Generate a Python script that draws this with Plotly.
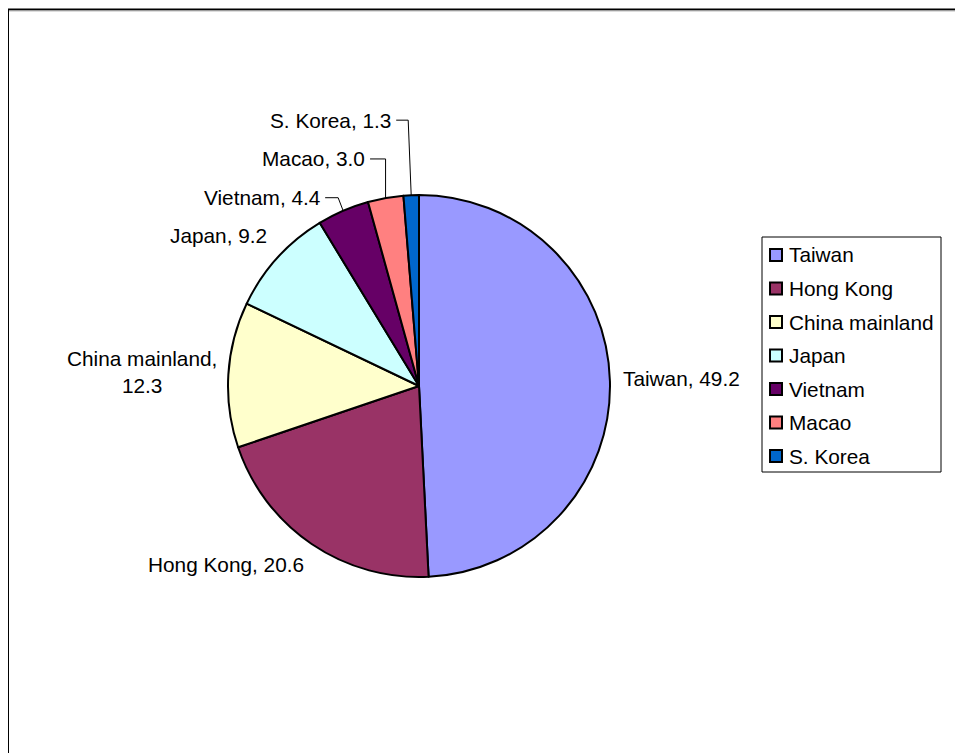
import math
import plotly.graph_objects as go

# ---- data ----
countries = ["Taiwan", "Hong Kong", "China mainland", "Japan", "Vietnam", "Macao", "S. Korea"]
shares = [49.2, 20.6, 12.3, 9.2, 4.4, 3.0, 1.3]
colors = ["#9999FF", "#993366", "#FFFFCC", "#CCFFFF", "#660066", "#FF8080", "#0066CC"]

# ---- layout (pixels, in page coordinates) ----
W, H = 963, 753
OFF = 8  # page body margin in the browser
CX, CY, R = 419, 386, 191
FONT = dict(family="Liberation Sans, Arial, sans-serif", size=20.8, color="#000000")

# label placement relative to the slice's mid-arc point: (dx, dy, xanchor, leader elbow dx or None)
label_cfg = [
    (11, -3, "left", None),
    (-6, 21, "right", None),
    (-9, -3, "right", None),
    (-8, -22, "right", None),
    (-21, -13, "right", -5),
    (-18.5, -39, "right", 0),
    (-18, -75, "right", -3),
]
label_text = ["Taiwan, {:.1f}", "Hong Kong, {:.1f}", "China mainland,<br>{:.1f}",
              "Japan, {:.1f}", "Vietnam, {:.1f}", "Macao, {:.1f}", "S. Korea, {:.1f}"]


def px(x):
    return (x - OFF) / W


def py(y):
    return 1 - (y - OFF) / H


fig = go.Figure()
fig.add_trace(go.Pie(
    labels=countries,
    values=shares,
    sort=False,
    direction="clockwise",
    rotation=0,
    marker=dict(colors=colors, line=dict(color="#000000", width=2)),
    textinfo="none",
    hoverinfo="label+value",
    showlegend=False,
    domain=dict(x=[px(CX - R), px(CX + R)], y=[py(CY + R), py(CY - R)]),
))

shapes = []
annotations = []

# data labels with leader lines
total = sum(shares)
cum = 0.0
for i, v in enumerate(shares):
    mid = (cum + v / 2) / total * 2 * math.pi
    cum += v
    ax = CX + R * math.sin(mid)
    ay = CY - R * math.cos(mid)
    dx, dy, xa, elbow = label_cfg[i]
    lx, ly = ax + dx, ay + dy
    annotations.append(dict(
        x=px(lx), y=py(ly), xref="paper", yref="paper",
        text=label_text[i].format(v), showarrow=False,
        xanchor=xa, yanchor="middle", align="center", font=FONT,
    ))
    if elbow is not None:
        ex = ax + elbow
        path = "M {} {} L {} {} L {} {}".format(
            px(ax), py(ay), px(ex), py(ly), px(lx + 3), py(ly))
        shapes.append(dict(type="path", path=path, xref="paper", yref="paper",
                           line=dict(color="#000000", width=1)))

# legend (manual, to match the original spacing)
LX0, LX1, LY0, LY1 = 762, 941, 237, 472
shapes.append(dict(type="rect", xref="paper", yref="paper",
                   x0=px(LX0), x1=px(LX1), y0=py(LY1), y1=py(LY0),
                   line=dict(color="#000000", width=1), fillcolor="rgba(0,0,0,0)"))
row0, step = 255, 33.5
for i, name in enumerate(countries):
    yc = row0 + i * step
    shapes.append(dict(type="rect", xref="paper", yref="paper",
                       x0=px(770), x1=px(782), y0=py(yc + 6), y1=py(yc - 6),
                       line=dict(color="#000000", width=2), fillcolor=colors[i]))
    annotations.append(dict(x=px(787), y=py(yc), xref="paper", yref="paper",
                            text=name, showarrow=False, xanchor="left",
                            yanchor="middle", font=FONT))

# chart frame
shapes.append(dict(type="rect", xref="paper", yref="paper",
                   x0=px(8), x1=px(W + 20), y0=py(H + 20), y1=py(9.5),
                   line=dict(color="#000000", width=2), fillcolor="rgba(0,0,0,0)", layer="below"))
shapes.append(dict(type="line", xref="paper", yref="paper",
                   x0=px(9), x1=px(W + 20), y0=py(11), y1=py(11),
                   line=dict(color="#BBBBBB", width=1)))

fig.update_layout(
    width=W, height=H,
    margin=dict(l=0, r=0, t=0, b=0),
    paper_bgcolor="#FFFFFF",
    plot_bgcolor="#FFFFFF",
    shapes=shapes,
    annotations=annotations,
    showlegend=False,
)

fig.write_html("out.html")
